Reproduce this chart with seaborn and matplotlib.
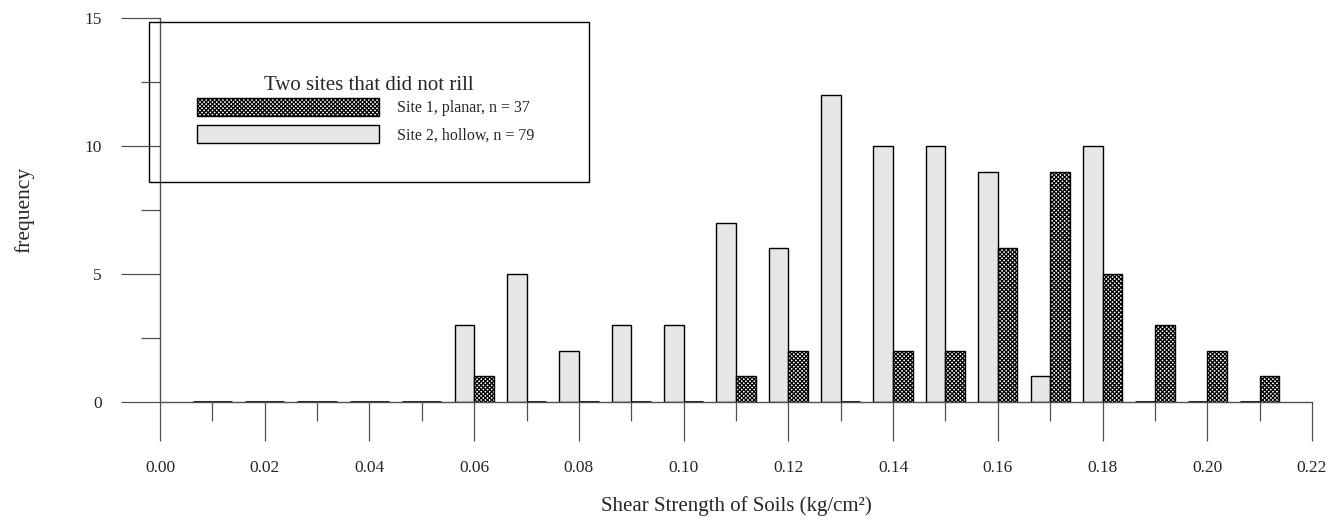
import numpy as np
import pandas as pd
import matplotlib
matplotlib.use("Agg")
import matplotlib.pyplot as plt
from matplotlib.patches import Patch, Rectangle
from matplotlib.ticker import FixedLocator
import seaborn as sns

# Histogram bins (class centres of shear strength, kg/cm^2)
bins = [0.01, 0.02, 0.03, 0.04, 0.05, 0.06, 0.07, 0.08, 0.09, 0.10, 0.11,
        0.12, 0.13, 0.14, 0.15, 0.16, 0.17, 0.18, 0.19, 0.20, 0.21]
site1_counts = [0, 0, 0, 0, 0, 1, 0, 0, 0, 0, 1, 2, 0, 2, 2, 6, 9, 5, 3, 2, 1]
site2_counts = [0, 0, 0, 0, 0, 3, 5, 2, 3, 3, 7, 6, 12, 10, 10, 9, 1, 10, 0, 0, 0]
site1_label = "Site 1, planar, n = 37"
site2_label = "Site 2, hollow, n = 79"
legend_title = "Two sites that did not rill"
x_ticks = [0.00, 0.02, 0.04, 0.06, 0.08, 0.10, 0.12, 0.14, 0.16, 0.18, 0.20, 0.22]
y_ticks = [0, 5, 10, 15]

df = pd.DataFrame({
    "strength": np.round(bins * 2, 2),
    "count": site2_counts + site1_counts,
    "site": [site2_label] * len(bins) + [site1_label] * len(bins),
})

sns.set_style("white")
plt.rcParams["font.family"] = ["Liberation Serif", "DejaVu Serif"]
plt.rcParams["hatch.linewidth"] = 0.9
HATCH = "xxxxxxxx"

fig = plt.figure(figsize=(13.34, 5.2), dpi=100)
W, H = 1334, 520
ax = fig.add_axes([160 / W, 1 - 402 / H, (1312 - 160) / W, (402 - 18) / H])

sns.barplot(data=df, x="strength", y="count", hue="site",
            hue_order=[site2_label, site1_label],
            palette=["#e6e6e6", "#ffffff"], native_scale=True,
            width=0.75, dodge=True, edgecolor="black", linewidth=1.0,
            legend=False, ax=ax)

# cross-hatch the Site 1 bars
for bar in ax.containers[1]:
    bar.set_hatch(HATCH)
    bar.set_facecolor("white")
    bar.set_edgecolor("black")

# empty classes show as a heavy stroke along the baseline
for container in ax.containers:
    for bar in container:
        if bar.get_height() == 0:
            bar.set_linewidth(2.0)

ax.set_xlim(0, 0.22)
ax.set_ylim(0, 15)
ax.xaxis.set_major_locator(FixedLocator(x_ticks))
ax.set_xticklabels([f"{t:.2f}" for t in x_ticks])
ax.xaxis.set_minor_locator(FixedLocator([0.01 + 0.02 * i for i in range(11)]))
ax.yaxis.set_major_locator(FixedLocator(y_ticks))
ax.set_yticklabels([str(t) for t in y_ticks])
ax.yaxis.set_minor_locator(FixedLocator([2.5, 7.5, 12.5]))

for side in ("top", "right"):
    ax.spines[side].set_visible(False)
for side in ("left", "bottom"):
    ax.spines[side].set_color("#505050")
    ax.spines[side].set_linewidth(1.0)

ax.tick_params(which="major", direction="out", length=28, width=0.9,
               color="#505050", labelsize=12.5, pad=14)
ax.tick_params(which="minor", direction="out", length=14, width=0.9,
               color="#505050")
ax.tick_params(axis="x", which="both", bottom=True)
ax.tick_params(axis="y", which="both", left=True)

ax.set_xlabel("Shear Strength of Soils (kg/cm²)", fontsize=15)
ax.set_ylabel("frequency", fontsize=15.5)
ax.xaxis.set_label_coords(0.5, -0.245)
ax.yaxis.set_label_coords(-0.109, 0.5)

# legend frame, title and entries
fig.add_artist(Rectangle((149 / W, 1 - 182 / H), (589 - 149) / W, (182 - 22) / H,
                         transform=fig.transFigure, fill=False,
                         edgecolor="black", linewidth=1.0))
fig.text(369 / W, 1 - 90 / H, legend_title, ha="center", va="baseline",
         fontsize=15)
handles = [Patch(facecolor="white", edgecolor="black", hatch=HATCH,
                 linewidth=1.0, label=site1_label),
           Patch(facecolor="#e6e6e6", edgecolor="black", linewidth=1.0,
                 label=site2_label)]
fig.legend(handles=handles, loc="upper left",
           bbox_to_anchor=(197 / W, 1 - 98 / H), frameon=False,
           fontsize=11.5, handlelength=11.4,
           handleheight=1.35, handletextpad=1.1, labelspacing=0.55,
           borderpad=0, borderaxespad=0)

fig.savefig("out.png", dpi=100)
